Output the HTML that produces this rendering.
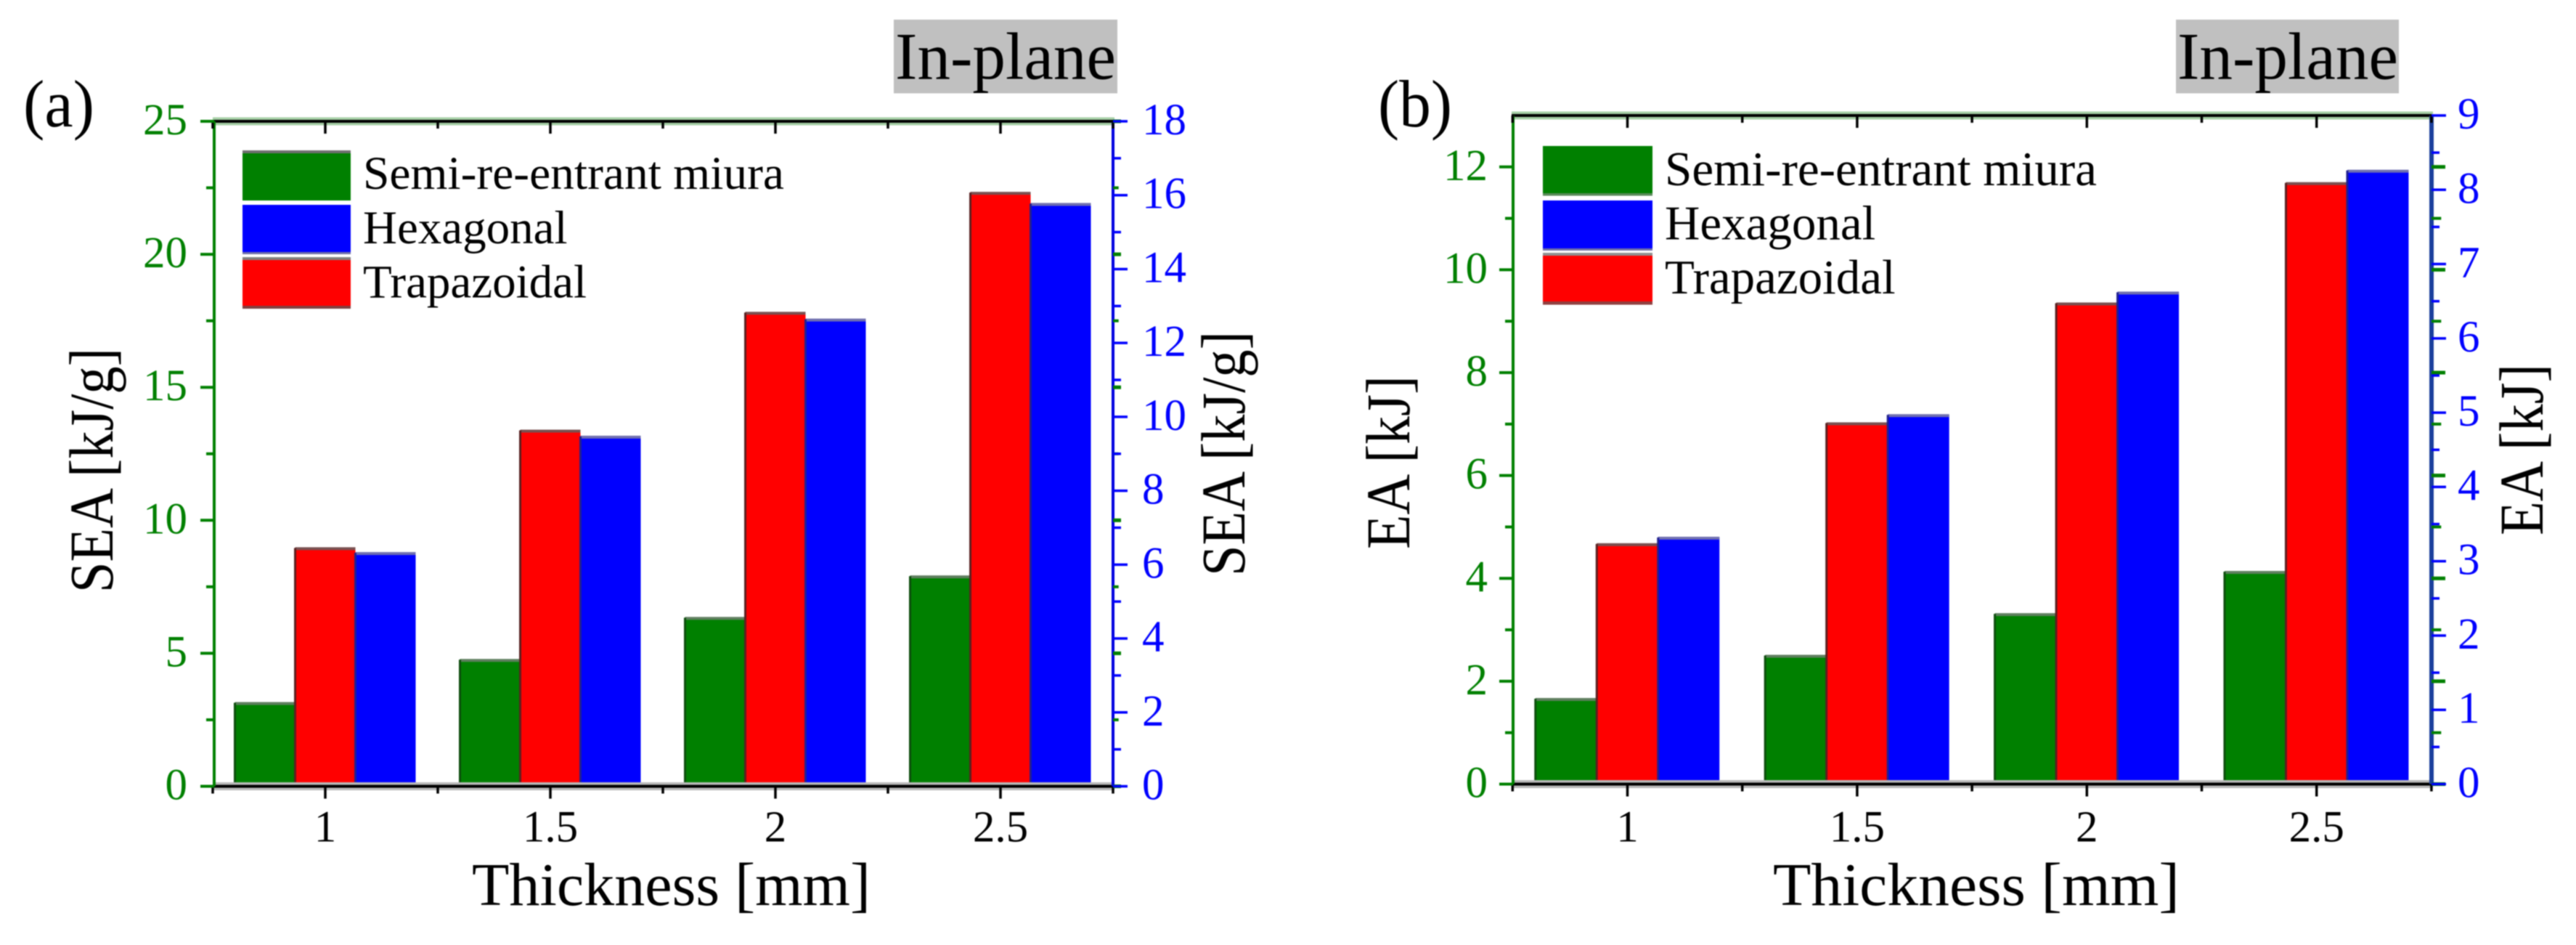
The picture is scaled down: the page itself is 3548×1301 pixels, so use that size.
<!DOCTYPE html>
<html lang="en">
<head>
<meta charset="utf-8">
<title>SEA and EA versus thickness</title>
<style>
html,body{margin:0;padding:0;background:#fff;width:3548px;height:1301px;overflow:hidden}
svg{display:block;font-family:"Liberation Serif",serif;filter:blur(0.7px)}
</style>
</head>
<body>
<svg id="fig" xmlns="http://www.w3.org/2000/svg" width="3548" height="1301" viewBox="0 0 3548 1301">
  <rect width="3548" height="1301" fill="#fff"/>

  <g id="panel-a">
    <text x="32" y="174" font-size="92" textLength="98" lengthAdjust="spacingAndGlyphs">(a)</text>
    <rect x="1231" y="27" width="308" height="101.5" fill="#c0c0c0"/>
    <text x="1233" y="108.5" font-size="92" textLength="304" lengthAdjust="spacingAndGlyphs">In-plane</text>
    <text transform="translate(155 647.5) rotate(-90)" text-anchor="middle" font-size="86" textLength="337" lengthAdjust="spacingAndGlyphs">SEA [kJ/g]</text>
    <text transform="translate(1714 624.5) rotate(-90)" text-anchor="middle" font-size="86" textLength="337" lengthAdjust="spacingAndGlyphs">SEA [kJ/g]</text>
    <text x="650" y="1246" font-size="84" textLength="549" lengthAdjust="spacingAndGlyphs">Thickness [mm]</text>
    <g>
      <rect x="334" y="207" width="149" height="69" fill="#008000"/>
      <rect x="334" y="207" width="149" height="4" fill="#707070"/>
      <rect x="334" y="282" width="149" height="68" fill="#0000ff"/>
      <rect x="334" y="347" width="149" height="3" fill="#7070a8"/>
      <rect x="334" y="354" width="149" height="71" fill="#ff0000"/>
      <rect x="334" y="354" width="149" height="4" fill="#808080"/>
      <rect x="334" y="421" width="149" height="4" fill="#804040"/>
      <text x="500" y="260" font-size="65" textLength="580" lengthAdjust="spacingAndGlyphs">Semi-re-entrant miura</text>
      <text x="500" y="335" font-size="65">Hexagonal</text>
      <text x="500" y="409.5" font-size="65">Trapazoidal</text>
    </g>
  </g>

  <g id="panel-b">
    <text x="1898" y="174" font-size="92" textLength="102" lengthAdjust="spacingAndGlyphs">(b)</text>
    <rect x="2997" y="27" width="307" height="101.5" fill="#c0c0c0"/>
    <text x="2999" y="108.5" font-size="92" textLength="304" lengthAdjust="spacingAndGlyphs">In-plane</text>
    <text transform="translate(1941 636.5) rotate(-90)" text-anchor="middle" font-size="86" textLength="239" lengthAdjust="spacingAndGlyphs">EA [kJ]</text>
    <text transform="translate(3502 619) rotate(-90)" text-anchor="middle" font-size="86" textLength="236" lengthAdjust="spacingAndGlyphs">EA [kJ]</text>
    <text x="2442" y="1246" font-size="84" textLength="560" lengthAdjust="spacingAndGlyphs">Thickness [mm]</text>
    <g>
      <rect x="2125" y="201" width="151" height="68.5" fill="#008000"/>
      <rect x="2125" y="266" width="151" height="3.5" fill="#5a8a5a"/>
      <rect x="2125" y="276" width="151" height="69" fill="#0000ff"/>
      <rect x="2125" y="342" width="151" height="3" fill="#7070a8"/>
      <rect x="2125" y="348" width="151" height="71.5" fill="#ff0000"/>
      <rect x="2125" y="348" width="151" height="4" fill="#909090"/>
      <rect x="2125" y="415" width="151" height="4.5" fill="#904040"/>
      <text x="2293" y="255" font-size="67" textLength="595" lengthAdjust="spacingAndGlyphs">Semi-re-entrant miura</text>
      <text x="2293" y="329.5" font-size="67">Hexagonal</text>
      <text x="2293" y="404" font-size="67">Trapazoidal</text>
    </g>
  </g>
</svg>
<script>
const categories = ['1', '1.5', '2', '2.5'];

// Panel (a) values: SEA [kJ/g]. Semi and trapazoidal read on left axis, hexagonal on right axis.
const seaSemi = [3.14, 4.76, 6.34, 7.90];
const seaTrap = [8.96, 13.38, 17.81, 22.32];
const seaHex = [6.32, 9.47, 12.64, 15.77];
const seaLeftTicks = [0, 5, 10, 15, 20, 25];
const seaLeftMinor = [2.5, 7.5, 12.5, 17.5, 22.5];
const seaRightTicks = [0, 2, 4, 6, 8, 10, 12, 14, 16, 18];
const seaRightMinor = [1, 3, 5, 7, 9, 11, 13, 15, 17];

// Panel (b) values: EA [kJ]. Semi and trapazoidal read on left axis, hexagonal on right axis.
const eaSemi = [1.66, 2.50, 3.31, 4.13];
const eaTrap = [4.67, 7.02, 9.35, 11.69];
const eaHex = [3.32, 4.97, 6.62, 8.26];
const eaLeftTicks = [0, 2, 4, 6, 8, 10, 12];
const eaLeftMinor = [1, 3, 5, 7, 9, 11];
const eaRightTicks = [0, 1, 2, 3, 4, 5, 6, 7, 8, 9];
const eaRightMinor = [0.5, 1.5, 2.5, 3.5, 4.5, 5.5, 6.5, 7.5, 8.5];

const NS = 'http://www.w3.org/2000/svg';

function line(parent, x1, y1, x2, y2, color, width) {
  const el = document.createElementNS(NS, 'line');
  el.setAttribute('x1', x1);
  el.setAttribute('y1', y1);
  el.setAttribute('x2', x2);
  el.setAttribute('y2', y2);
  el.setAttribute('stroke', color);
  el.setAttribute('stroke-width', width);
  parent.appendChild(el);
  return el;
}

function box(parent, x, y, w, h, color) {
  const el = document.createElementNS(NS, 'rect');
  el.setAttribute('x', x);
  el.setAttribute('y', y);
  el.setAttribute('width', w);
  el.setAttribute('height', h);
  el.setAttribute('fill', color);
  parent.appendChild(el);
  return el;
}

function label(parent, x, y, str, size, color, anchor) {
  const el = document.createElementNS(NS, 'text');
  el.setAttribute('x', x);
  el.setAttribute('y', y);
  el.setAttribute('font-size', size);
  el.setAttribute('fill', color);
  el.setAttribute('text-anchor', anchor);
  el.textContent = str;
  parent.appendChild(el);
  return el;
}

function drawPanel(p) {
  const root = document.getElementById(p.id);
  const L = p.left, R = p.right, T = p.top, B = p.bottom;
  const yL = function (v) { return B - (v / p.leftMax) * (B - T); };
  const yR = function (v) { return B - (v / p.rightMax) * (B - T); };
  const xC = function (i) { return p.x0 + i * p.step; };
  const GREEN = '#008000', BLUE = '#0000ff';

  const marks = document.createElementNS(NS, 'g');
  
  
  root.insertBefore(marks, root.firstChild);

  const seriesList = [
    { name: 'semi-re-entrant', vals: p.semi, scale: yL, fill: GREEN, edge: '#5f7f5f', side: '#0d4d0d' },
    { name: 'trapazoidal', vals: p.trap, scale: yL, fill: '#ff0000', edge: '#7a5050', side: '#5a2020' },
    { name: 'hexagonal', vals: p.hex, scale: yR, fill: BLUE, edge: '#6f6fb0', side: '#202090' }
  ];
  seriesList.forEach(function (s, si) {
    s.vals.forEach(function (v, i) {
      const x = xC(i) + (si - 1.5) * p.barW;
      const y = s.scale(v);
      const bar = box(marks, x, y, p.barW, B - y, s.fill);
      
      
      const cap = box(marks, x, y - 1, p.barW, 4, s.edge);
      
      
      const side = box(marks, x - 1.5, y, 3, B - y, s.side);
      
      
    });
  });

  const axes = document.createElementNS(NS, 'g');
  
  
  root.appendChild(axes);

  const topHalo = line(axes, L - 2, T, R + 2, T, '#a6cfa6', 11);
  
  
  const bottomHalo = line(axes, L - 2, B, R + 2, B, '#b8b8b8', 11);
  
  
  const topLine = line(axes, L - 2, T, R, T, '#000', 4);
  
  
  const bottomLine = line(axes, L - 2, B, R, B, '#000', 4);
  
  
  const leftLine = line(axes, L, T, L, B, GREEN, 4);
  
  
  const rightLine = line(axes, R, T, R, B, p.rightAxisColor, p.rightAxisWidth);
  
  

  // x ticks
  categories.forEach(function (c, i) {
    const x = xC(i);
    const tb = line(axes, x, B, x, B + 17, '#000', 3.5);
    
    
    const tt = line(axes, x, T, x, T + 17, '#000', 3.5);
    
    
    const tl = label(root, x, 1158.5, c, 61, '#000', 'middle');
    
    
  });
  [-0.5, 0.5, 1.5, 2.5, 3.5].forEach(function (i) {
    const x = xC(i);
    const mb = line(axes, x, B, x, B + 10, '#000', 3.5);
    
    
    const mt = line(axes, x, T, x, T + 10, '#000', 3.5);
    
    
  });

  // left axis ticks and mirrored green ticks on the right axis
  p.leftTicks.forEach(function (v) {
    const y = yL(v);
    const t = line(axes, L - 19, y, L, y, GREEN, 4);
    
    
    const m = line(axes, R, y, R + p.mirrorLen, y, GREEN, 5);
    
    
    const tl = label(root, p.leftLabelX, y + 18, String(v), 61, GREEN, 'end');
    
    
  });
  p.leftMinor.forEach(function (v) {
    const y = yL(v);
    const t = line(axes, L - 11, y, L, y, GREEN, 4);
    
    
    const m = line(axes, R, y, R + p.mirrorLen * 0.7, y, GREEN, 4);
    
    
  });

  // right axis ticks
  p.rightTicks.forEach(function (v) {
    const y = yR(v);
    const t = line(axes, R, y, R + 20, y, BLUE, 3.5);
    
    
    const tl = label(root, p.rightLabelX, y + 18, String(v), 61, BLUE, 'start');
    
    
  });
  p.rightMinor.forEach(function (v) {
    const y = yR(v);
    const t = line(axes, R, y, R + 11, y, BLUE, 3.5);
    
    
  });
}

drawPanel({
  id: 'panel-a', key: 'a',
  left: 295, right: 1533, top: 167, bottom: 1082.5,
  x0: 448, step: 310, barW: 83,
  leftMax: 25, rightMax: 18,
  semi: seaSemi, trap: seaTrap, hex: seaHex,
  leftTicks: seaLeftTicks, leftMinor: seaLeftMinor,
  rightTicks: seaRightTicks, rightMinor: seaRightMinor,
  leftLabelX: 258, rightLabelX: 1573,
  rightAxisColor: '#0000e0', rightAxisWidth: 4, mirrorLen: 11
});

drawPanel({
  id: 'panel-b', key: 'b',
  left: 2084, right: 3349, top: 159, bottom: 1079.5,
  x0: 2241.5, step: 316.4, barW: 84.5,
  leftMax: 13, rightMax: 9,
  semi: eaSemi, trap: eaTrap, hex: eaHex,
  leftTicks: eaLeftTicks, leftMinor: eaLeftMinor,
  rightTicks: eaRightTicks, rightMinor: eaRightMinor,
  leftLabelX: 2049, rightLabelX: 3385,
  rightAxisColor: '#1a3f9c', rightAxisWidth: 6, mirrorLen: 19
});
</script>
</body>
</html>
